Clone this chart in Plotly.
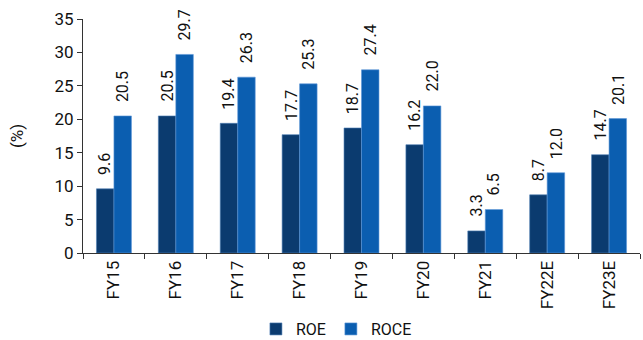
import plotly.graph_objects as go

categories = ["FY15", "FY16", "FY17", "FY18", "FY19", "FY20", "FY21", "FY22E", "FY23E"]
roe = [9.6, 20.5, 19.4, 17.7, 18.7, 16.2, 3.3, 8.7, 14.7]
roce = [20.5, 29.7, 26.3, 25.3, 27.4, 22.0, 6.5, 12.0, 20.1]
y_ticks = [0, 5, 10, 15, 20, 25, 30, 35]

FONT = "Roboto, Arial, sans-serif"
FS = 17
C_ROE = "#0b3b6f"
C_ROCE = "#0b5eb0"

W, H = 643, 340
ML, MR, MT, MB = 83, 3, 19, 87
BARGAP = 0.435

fig = go.Figure()
fig.add_bar(x=categories, y=roe, name="ROE", marker=dict(color=C_ROE, line=dict(color="#4f7fb5", width=0.6)))
fig.add_bar(x=categories, y=roce, name="ROCE", marker=dict(color=C_ROCE, line=dict(color="#5d95d6", width=0.6)))

cat_w = (W - ML - MR) / len(categories)
off = cat_w * (1 - BARGAP) / 4
for series, sign in ((roe, -1), (roce, 1)):
    for c, v in zip(categories, series):
        fig.add_annotation(x=c, y=v, xref="x", yref="y", text=f"{v:.1f}", textangle=-90,
                           showarrow=False, xanchor="center", yanchor="bottom",
                           xshift=sign * off, yshift=12,
                           font=dict(family=FONT, size=16, color="#111"))

fig.update_layout(
    width=W, height=H, margin=dict(l=ML, r=MR, t=MT, b=MB, autoexpand=False),
    barmode="group", bargap=BARGAP, bargroupgap=0,
    plot_bgcolor="white", paper_bgcolor="white",
    font=dict(family=FONT, size=FS, color="#111"),
    showlegend=True,
    legend=dict(orientation="h", x=0.455, xanchor="center", y=-0.325, yanchor="middle",
                font=dict(family=FONT, size=16), itemwidth=30, tracegroupgap=0),
)
fig.update_yaxes(range=[0, 35], tickvals=y_ticks, showgrid=False, zeroline=False,
                 showline=True, linecolor="#333", linewidth=1, ticks="outside", ticklen=5,
                 tickcolor="#333", automargin=False,
                 title=dict(text="(%)", standoff=26, font=dict(family=FONT, size=FS)))
fig.update_xaxes(showgrid=False, showline=True, linecolor="#333", linewidth=1, ticks="outside",
                 ticklen=5, tickcolor="#333", tickson="boundaries", tickangle=-90, automargin=False)

fig.write_html("out.html")
